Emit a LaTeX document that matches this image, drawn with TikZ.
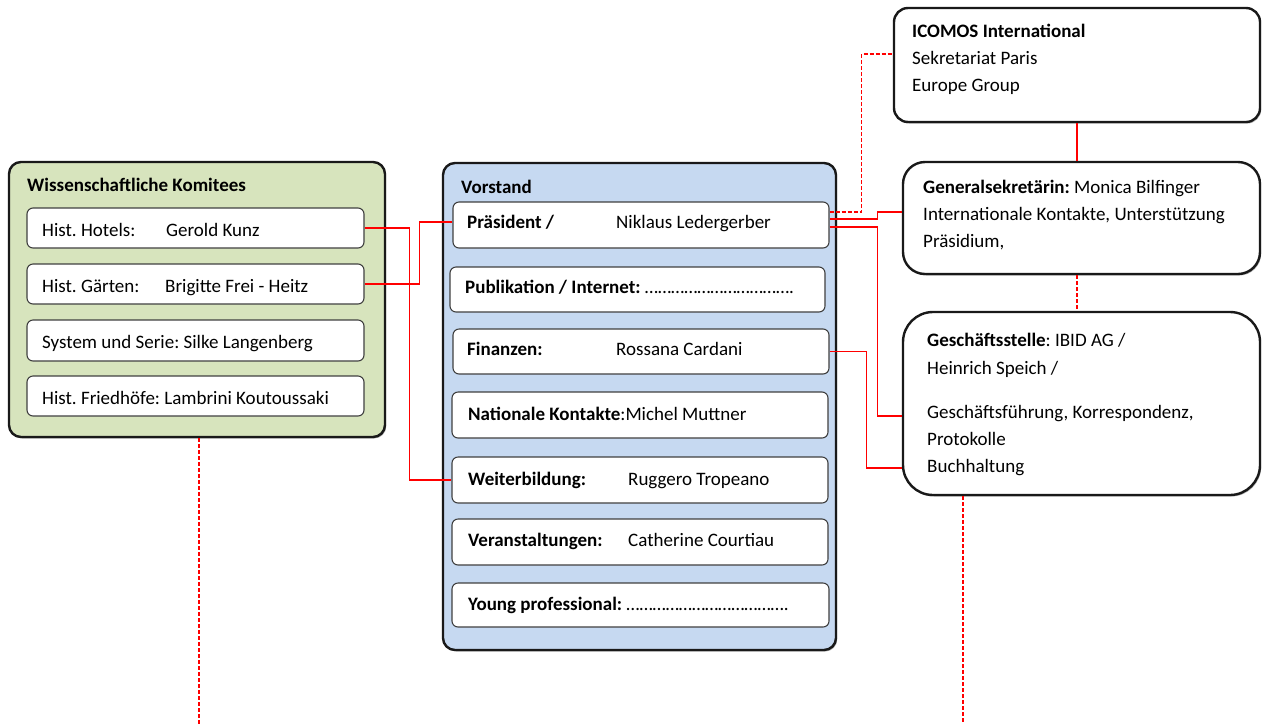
\documentclass[tikz,border=0pt]{standalone}
\usepackage{fontspec}
\setmainfont{Carlito}
\frenchspacing
\usetikzlibrary{shadows}
\definecolor{greenfill}{HTML}{D7E4BD}
\definecolor{bluefill}{HTML}{C6D9F1}
\definecolor{linkred}{HTML}{FF0000}
\begin{document}
\begin{tikzpicture}[x=1pt,y=-1pt,
  outerbox/.style={draw=black!90, line width=2.4pt, rounded corners=12pt,
    drop shadow={shadow xshift=1.2pt, shadow yshift=-1.5pt, opacity=0.45, fill=black!70}},
  innerbox/.style={draw=black!75, line width=1.1pt, fill=white, rounded corners=6pt},
  txt/.style={anchor=base west, inner sep=0pt, font=\fontsize{19}{23}\selectfont},
  conn/.style={draw=linkred, line width=1.8pt},
  dconn/.style={draw=linkred, line width=1.4pt, dash pattern=on 4pt off 2pt}]
\useasboundingbox (0,0) rectangle (1263,724);

% Wissenschaftliche Komitees
\node[outerbox, fill=greenfill, minimum width=376pt, minimum height=275pt] (gk) at (197,299.5) {};
\node[txt] (gkt) at (27,191) {\textbf{Wissenschaftliche Komitees}};
\node[innerbox, minimum width=337pt, minimum height=40pt] (h1) at (195.5,228) {};
\node[innerbox, minimum width=337pt, minimum height=40pt] (h2) at (195.5,284) {};
\node[innerbox, minimum width=337pt, minimum height=41pt] (h3) at (195.5,340.5) {};
\node[innerbox, minimum width=337pt, minimum height=40pt] (h4) at (195.5,396) {};
\node[txt] (h1t) at (42,236) {\makebox[124pt][l]{Hist. Hotels:}Gerold Kunz};
\node[txt] (h2t) at (42,292) {\makebox[123pt][l]{Hist. Gärten:}Brigitte Frei - Heitz};
\node[txt] (h3t) at (42,348) {System und Serie: Silke Langenberg};
\node[txt] (h4t) at (42,404) {Hist. Friedhöfe: Lambrini Koutoussaki};

% Vorstand
\node[outerbox, fill=bluefill, minimum width=393pt, minimum height=487pt] (vs) at (639.5,406.5) {};
\node[txt] (vst) at (461,193) {\textbf{Vorstand}};
\node[innerbox, minimum width=376pt, minimum height=46pt] (pr) at (641,225) {};
\node[innerbox, minimum width=375pt, minimum height=45pt] (pub) at (637.5,289.5) {};
\node[innerbox, minimum width=376pt, minimum height=45pt] (fin) at (641,351.5) {};
\node[innerbox, minimum width=376pt, minimum height=46pt] (nat) at (640,415) {};
\node[innerbox, minimum width=376pt, minimum height=46pt] (wb) at (640,480) {};
\node[innerbox, minimum width=376pt, minimum height=46pt] (ver) at (640,542) {};
\node[innerbox, minimum width=377pt, minimum height=44pt] (yp) at (640.5,605) {};
\node[txt] (prt) at (467,228) {\makebox[149pt][l]{\textbf{Präsident /}}Niklaus Ledergerber};
\node[txt] (pubt) at (465,293) {\textbf{Publikation / Internet:} …………………………….};
\node[txt] (fint) at (467,355) {\makebox[149pt][l]{\textbf{Finanzen:}}Rossana Cardani};
\node[txt] (natt) at (468,420) {\textbf{Nationale Kontakte}:Michel Muttner};
\node[txt] (wbt) at (468,485) {\makebox[160pt][l]{\textbf{Weiterbildung:}}Ruggero Tropeano};
\node[txt] (vert) at (468,546) {\makebox[160pt][l]{\textbf{Veranstaltungen:}}Catherine Courtiau};
\node[txt] (ypt) at (468,610) {\textbf{Young professional:} ……………………………….};

% Right column
\node[outerbox, fill=white, rounded corners=14pt, minimum width=366pt, minimum height=114pt] (ic) at (1077,65) {};
\node[txt] (ict1) at (912,37) {\textbf{ICOMOS International}};
\node[txt] (ict2) at (912,64) {Sekretariat Paris};
\node[txt] (ict3) at (912,91) {Europe Group};

\node[outerbox, fill=white, rounded corners=22pt, minimum width=357pt, minimum height=112pt] (gen) at (1081.5,218) {};
\node[txt] (gent1) at (923,193) {\textbf{Generalsekretärin:} Monica Bilfinger};
\node[txt] (gent2) at (923,220) {Internationale Kontakte, Unterstützung};
\node[txt] (gent3) at (923,247) {Präsidium,};

\node[outerbox, fill=white, rounded corners=30pt, minimum width=357pt, minimum height=183pt] (gs) at (1081.5,403.5) {};
\node[txt] (gst1) at (927,346) {\textbf{Geschäftsstelle}: IBID AG /};
\node[txt] (gst2) at (927,374) {Heinrich Speich /};
\node[txt] (gst3) at (927,418) {Geschäftsführung, Korrespondenz,};
\node[txt] (gst4) at (927,445) {Protokolle};
\node[txt] (gst5) at (927,472) {Buchhaltung};

% free ends
\coordinate (gkend) at (199,724);
\coordinate (gsend) at (963,724);

% connectors
\draw[conn] (h1.east) -- ++(45,0) |- (wb.west);
\draw[conn] (h2.east) -- ++(55,0) |- ([yshift=3pt]pr.west);
\draw[dconn] ([yshift=13pt]pr.east) -- ++(32,0) |- ([yshift=11pt]ic.west);
\draw[conn] ([yshift=6pt]pr.east) -- ++(48,0) |- ([yshift=6pt]gen.west);
\draw[conn] ([yshift=-2pt]pr.east) -- ++(48,0) |- ([yshift=-12.5pt]gs.west);
\draw[conn] (fin.east) -- ++(37,0) |- ([yshift=-64.5pt]gs.west);
\draw[conn] (ic.south) -- (ic.south |- gen.north);
\draw[dconn] (gen.south -| ic.south) -- (gs.north -| ic.south);
\draw[dconn] (gs.south -| gsend) -- (gsend);
\draw[dconn] (gk.south -| gkend) -- (gkend);
\end{tikzpicture}
\end{document}
